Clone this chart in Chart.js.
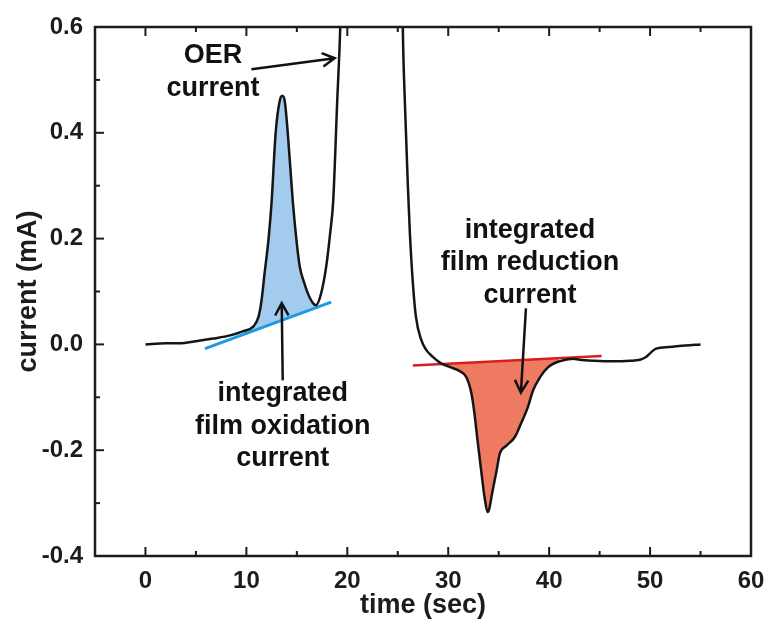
<!DOCTYPE html>
<html>
<head>
<meta charset="utf-8">
<script src="https://cdn.jsdelivr.net/npm/chart.js@4.4.1/dist/chart.umd.min.js"></script>
<style>
  html, body { margin: 0; padding: 0; background: #fff; }
</style>
</head>
<body>
<canvas id="chart" width="768" height="623"></canvas>
<script>
// Current transient (time in sec, current in mA)
const timeSec = [
  0, 2, 3.4, 5, 6.7, 8.4, 9.7, 10.7, 11.2, 11.5, 11.8, 12.2, 12.5, 12.9, 13.3, 13.55,
  13.8, 14.1, 14.6, 15.0, 15.3, 15.7, 16.1, 16.6, 16.9, 17.4, 17.9, 18.3, 18.6, 19.0,
  19.3, 19.6, 20.2, 25.0, 25.5, 25.7, 26.0, 26.2, 26.5, 26.8, 27.3, 27.8, 28.5, 29.3,
  30.2, 31.1, 31.8, 32.3, 32.6, 32.9, 33.3, 33.6, 33.9, 34.05, 34.4, 34.8, 35.1, 35.8,
  36.6, 37.2, 37.9, 38.4, 39.1, 39.9, 41.0, 42.4, 43.0, 44.5, 46.3, 48.0, 49.0, 49.6,
  50.1, 50.6, 51.9, 53.5, 55.0
];
const currentMA = [
  0.000, 0.002, 0.002, 0.006, 0.011, 0.017, 0.025, 0.034, 0.052, 0.083, 0.134, 0.200, 0.270, 0.400, 0.460, 0.470,
  0.460, 0.400, 0.270, 0.190, 0.146, 0.118, 0.096, 0.078, 0.074, 0.096, 0.146, 0.210, 0.270, 0.460,
  0.600, 0.850, 1.500, 1.500, 0.600, 0.460, 0.300, 0.210, 0.115, 0.052, 0.010, -0.010, -0.024, -0.036,
  -0.043, -0.050, -0.062, -0.093, -0.131, -0.181, -0.244, -0.289, -0.317, -0.312, -0.276, -0.238, -0.207, -0.191,
  -0.175, -0.150, -0.118, -0.087, -0.062, -0.043, -0.032, -0.027, -0.029, -0.031, -0.032, -0.031, -0.029, -0.024,
  -0.015, -0.008, -0.005, -0.002, 0.000
];

// baselines for the integrated areas
const oxBaseT = [5.9, 18.4];
const oxBaseI = [-0.008, 0.080];
const redBaseT = [26.5, 45.2];
const redBaseI = [-0.040, -0.022];
const oxRange = [9.7, 16.9];
const redRange = [29.3, 41.0];

const xTicks = [0, 10, 20, 30, 40, 50, 60];
const yTicks = [-0.4, -0.2, 0.0, 0.2, 0.4, 0.6];

// annotations (data units)
const noteLines = [['OER', 'current'], ['integrated', 'film oxidation', 'current'], ['integrated', 'film reduction', 'current']];
const noteT = [6.7, 13.6, 38.1];
const noteI = [0.546, -0.093, 0.2155];
const arrowFromT = [10.5, 13.6, 37.7];
const arrowFromI = [0.520, -0.068, 0.068];
const arrowToT = [18.75, 13.5, 37.2];
const arrowToI = [0.541, 0.078, -0.091];

const FONT = "'Liberation Sans', Arial, sans-serif";
const INK = '#1c1c1c';

const curvePts = timeSec.map((t, k) => ({ x: t, y: currentMA[k] }));
const inRange = r => curvePts.filter(p => p.x >= r[0] && p.x <= r[1]);

const overlay = {
  id: 'overlay',
  afterDraw(chart) {
    const { ctx, chartArea: a, scales: { x, y } } = chart;
    ctx.save();
    ctx.strokeStyle = INK;
    ctx.lineWidth = 2.5;
    ctx.strokeRect(a.left, a.top, a.right - a.left, a.bottom - a.top);

    // tick marks pointing inward (bottom + top, left only)
    ctx.lineWidth = 2;
    const xt = x.ticks.map(t => t.value);
    const xm = [];
    for (let k = 0; k < xt.length - 1; k++) xm.push((xt[k] + xt[k + 1]) / 2);
    const tickX = (v, len) => {
      const px = x.getPixelForValue(v);
      ctx.beginPath();
      ctx.moveTo(px, a.bottom); ctx.lineTo(px, a.bottom - len);
      ctx.moveTo(px, a.top); ctx.lineTo(px, a.top + len);
      ctx.stroke();
    };
    xt.forEach(v => tickX(v, 9));
    xm.forEach(v => tickX(v, 5));
    const yt = y.ticks.map(t => t.value);
    const ym = [];
    for (let k = 0; k < yt.length - 1; k++) ym.push((yt[k] + yt[k + 1]) / 2);
    const tickY = (v, len) => {
      const py = y.getPixelForValue(v);
      ctx.beginPath();
      ctx.moveTo(a.left, py); ctx.lineTo(a.left + len, py);
      ctx.stroke();
    };
    yt.forEach(v => tickY(v, 9));
    ym.forEach(v => tickY(v, 5));

    // arrows
    ctx.lineWidth = 2.5;
    ctx.strokeStyle = '#111';
    for (let k = 0; k < arrowFromT.length; k++) {
      const x0 = x.getPixelForValue(arrowFromT[k]), y0 = y.getPixelForValue(arrowFromI[k]);
      const x1 = x.getPixelForValue(arrowToT[k]), y1 = y.getPixelForValue(arrowToI[k]);
      const ang = Math.atan2(y1 - y0, x1 - x0);
      ctx.beginPath();
      ctx.moveTo(x0, y0); ctx.lineTo(x1, y1);
      ctx.moveTo(x1 - 14 * Math.cos(ang - 0.5), y1 - 14 * Math.sin(ang - 0.5));
      ctx.lineTo(x1, y1);
      ctx.lineTo(x1 - 14 * Math.cos(ang + 0.5), y1 - 14 * Math.sin(ang + 0.5));
      ctx.stroke();
    }

    // text notes
    ctx.fillStyle = '#111';
    ctx.font = 'bold 27px ' + FONT;
    ctx.textAlign = 'center';
    ctx.textBaseline = 'middle';
    noteLines.forEach((lines, k) => {
      const px = x.getPixelForValue(noteT[k]);
      const py = y.getPixelForValue(noteI[k]);
      lines.forEach((s, j) => ctx.fillText(s, px, py + j * 32.5));
    });
    ctx.restore();
  }
};

new Chart(document.getElementById('chart'), {
  type: 'line',
  data: {
    datasets: [
      {
        label: 'current', data: curvePts,
        borderColor: '#151515', borderWidth: 2.5, pointRadius: 0,
        cubicInterpolationMode: 'monotone', order: 0
      },
      {
        label: 'oxidation baseline',
        data: oxBaseT.map((t, k) => ({ x: t, y: oxBaseI[k] })),
        borderColor: '#1b9be3', borderWidth: 3, pointRadius: 0, order: 1
      },
      {
        label: 'reduction baseline',
        data: redBaseT.map((t, k) => ({ x: t, y: redBaseI[k] })),
        borderColor: '#d81e1e', borderWidth: 2.5, pointRadius: 0, order: 1
      },
      {
        label: 'oxidation area', data: inRange(oxRange),
        borderWidth: 0, pointRadius: 0, cubicInterpolationMode: 'monotone',
        backgroundColor: '#a3cbee', fill: 1, order: 2
      },
      {
        label: 'reduction area', data: inRange(redRange),
        borderWidth: 0, pointRadius: 0, cubicInterpolationMode: 'monotone',
        backgroundColor: '#ee7b61', fill: 2, order: 2
      }
    ]
  },
  options: {
    responsive: false,
    animation: false,
    devicePixelRatio: 1,
    layout: { padding: { top: 27, right: 17, left: 0, bottom: 0 } },
    plugins: { legend: { display: false }, tooltip: { enabled: false } },
    scales: {
      x: {
        type: 'linear', min: -5, max: 60,
        afterBuildTicks: s => { s.ticks = xTicks.map(v => ({ value: v })); },
        afterFit: s => { s.height = 67; s.paddingRight = 0; s.paddingLeft = 0; },
        grid: { display: false, drawTicks: false },
        border: { display: false },
        ticks: { color: INK, padding: 11, maxRotation: 0, autoSkip: false, font: { family: FONT, size: 24, weight: 'bold' } },
        title: { display: true, text: 'time (sec)', color: INK, padding: { top: 0, bottom: 4 }, font: { family: FONT, size: 27, weight: 'bold', lineHeight: 1 } }
      },
      y: {
        type: 'linear', min: -0.4, max: 0.6,
        afterBuildTicks: s => { s.ticks = yTicks.map(v => ({ value: v })); },
        afterFit: s => { s.width = 95; s.paddingTop = 0; s.paddingBottom = 0; },
        grid: { display: false, drawTicks: false },
        border: { display: false },
        ticks: { color: INK, padding: 12, callback: v => v.toFixed(1), font: { family: FONT, size: 24, weight: 'bold' } },
        title: { display: true, text: 'current (mA)', color: INK, padding: { top: 15, bottom: 0 }, font: { family: FONT, size: 27, weight: 'bold', lineHeight: 1 } }
      }
    }
  },
  plugins: [overlay]
});
</script>
</body>
</html>
